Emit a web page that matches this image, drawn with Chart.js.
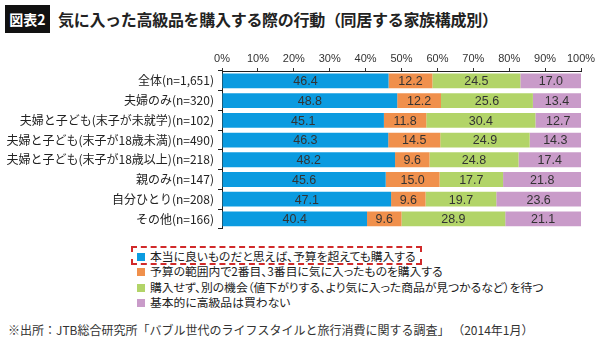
<!DOCTYPE html>
<html lang="ja">
<head>
<meta charset="utf-8">
<script src="https://cdn.jsdelivr.net/npm/chart.js@4.4.1/dist/chart.umd.min.js"></script>
<style>
  body { margin: 0; width: 610px; height: 350px; background: #fff; position: relative; overflow: hidden;
         font-family: "Noto Sans CJK JP", "Noto Sans", sans-serif; color: #222; }
  #badge { position: absolute; left: 5px; top: 5px; width: 45px; height: 28px; background: #111; color: #fff;
           font-weight: bold; font-size: 14px; line-height: 28px; text-align: center; }
  #title { position: absolute; left: 58px; top: 6px; font-size: 16px; font-weight: bold; line-height: 26px; letter-spacing: -0.3px; }
  #chartBox { position: absolute; left: 0; top: 40px; width: 610px; height: 200px; }
  #legend { position: absolute; left: 137px; top: 248px; font-size: 11.8px; line-height: 15.3px; font-feature-settings: "palt"; }
  .item { height: 15.3px; white-space: nowrap; }
  .sw { display: inline-block; width: 8px; height: 8px; margin-right: 5px; vertical-align: 0px; }
  .hl { display: inline-block; margin-left: -6px; margin-top: -2px; padding: 0 4px; line-height: 15px;
        border: 2px dashed #d12a2a; }
  #note { position: absolute; left: 8px; top: 321px; font-size: 12px; color: #333; }
</style>
</head>
<body>
<div id="badge">図表2</div>
<div id="title">気に入った高級品を購入する際の行動（同居する家族構成別）</div>
<div id="chartBox"><canvas id="chart"></canvas></div>
<div id="legend"></div>
<div id="note">※出所：JTB総合研究所「バブル世代のライフスタイルと旅行消費に関する調査」 （2014年1月）</div>
<script>
const categories = [
  "全体(n=1,651)",
  "夫婦のみ(n=320)",
  "夫婦と子ども(末子が未就学)(n=102)",
  "夫婦と子ども(末子が18歳未満)(n=490)",
  "夫婦と子ども(末子が18歳以上)(n=218)",
  "親のみ(n=147)",
  "自分ひとり(n=208)",
  "その他(n=166)"
];
const seriesNames = [
  "本当に良いものだと思えば、予算を超えても購入する",
  "予算の範囲内で2番目、3番目に気に入ったものを購入する",
  "購入せず、別の機会（値下がりする、より気に入った商品が見つかるなど）を待つ",
  "基本的に高級品は買わない"
];
const buyAnyway = [46.4, 48.8, 45.1, 46.3, 48.2, 45.6, 47.1, 40.4];
const secondChoice = [12.2, 12.2, 11.8, 14.5, 9.6, 15.0, 9.6, 9.6];
const waitChance = [24.5, 25.6, 30.4, 24.9, 24.8, 17.7, 19.7, 28.9];
const neverBuy = [17.0, 13.4, 12.7, 14.3, 17.4, 21.8, 23.6, 21.1];
const xTicks = [0, 10, 20, 30, 40, 50, 60, 70, 80, 90, 100];
const colors = ["#0b9be0", "#f0904c", "#b2d468", "#c99bc9"];

const seriesData = [buyAnyway, secondChoice, waitChance, neverBuy];

// value labels in the middle of each segment
const segmentLabels = {
  id: "segmentLabels",
  afterDatasetsDraw(chart) {
    const ctx = chart.ctx;
    ctx.save();
    ctx.font = "12.5px 'Liberation Sans', Arial, sans-serif";
    ctx.fillStyle = "#333";
    ctx.textAlign = "center";
    ctx.textBaseline = "middle";
    chart.data.datasets.forEach((ds, i) => {
      chart.getDatasetMeta(i).data.forEach((bar, j) => {
        const x = (bar.x + bar.base) / 2;
        ctx.fillText(ds.data[j].toFixed(1), x, bar.y + 1);
      });
    });
    ctx.restore();
  }
};

new Chart(document.getElementById("chart"), {
  type: "bar",
  data: {
    labels: categories,
    datasets: seriesData.map((d, i) => ({
      label: seriesNames[i],
      data: d,
      backgroundColor: colors[i],
      borderWidth: 0,
      barPercentage: 0.75,
      categoryPercentage: 1
    }))
  },
  options: {
    indexAxis: "y",
    responsive: true,
    maintainAspectRatio: false,
    animation: false,
    layout: { padding: { left: 0, right: 29, top: 0, bottom: 3 } },
    plugins: { legend: { display: false }, tooltip: { enabled: false } },
    scales: {
      x: {
        position: "top",
        stacked: true,
        min: 0,
        max: 100,
        afterBuildTicks: (s) => { s.ticks = xTicks.map((v) => ({ value: v })); },
        afterFit: (s) => { s.height = 31; },
        ticks: { callback: (v) => v + "%", color: "#333", padding: 2,
                 font: { family: "'Liberation Sans', Arial, sans-serif", size: 11 } },
        grid: { drawOnChartArea: false, drawTicks: true, tickLength: 3, color: "#333" },
        border: { color: "#222", width: 1 }
      },
      y: {
        stacked: true,
        afterFit: (s) => { s.width = 222; },
        ticks: { color: "#222", padding: 4,
                 font: { family: "'Noto Sans CJK JP', sans-serif", size: 12 } },
        grid: { drawOnChartArea: false, drawTicks: true, tickLength: 4, offset: true, color: "#222" },
        border: { color: "#222", width: 1 }
      }
    }
  },
  plugins: [segmentLabels]
});

const legend = document.getElementById("legend");
seriesNames.forEach((name, i) => {
  const row = document.createElement("div");
  row.className = "item";
  const content = `<span class="sw" style="background:${colors[i]}"></span>${name}`;
  row.innerHTML = i === 0 ? `<span class="hl">${content}</span>` : content;
  legend.appendChild(row);
});
</script>
</body>
</html>
